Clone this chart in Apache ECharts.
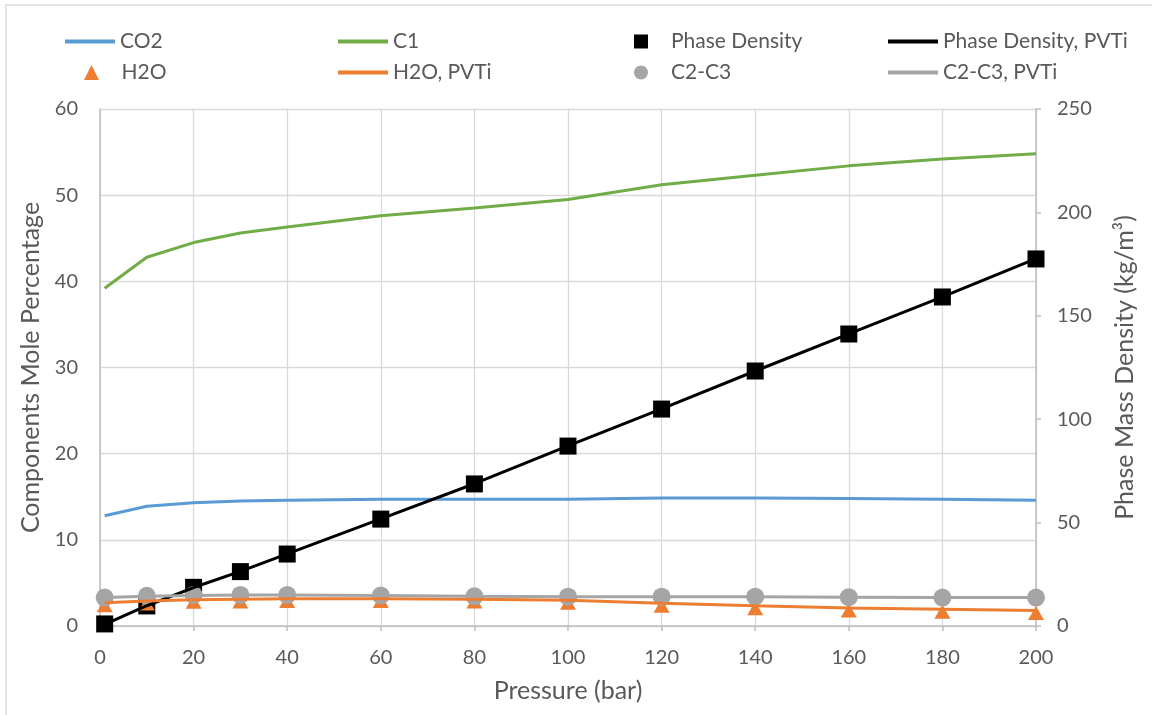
<!DOCTYPE html>
<html>
<head>
<meta charset="utf-8">
<script src="https://cdn.jsdelivr.net/npm/echarts@6/dist/echarts.min.js"></script>
<style>
html,body{margin:0;padding:0;background:#fff;}
#c{width:1152px;height:715px;}
</style>
</head>
<body>
<div id="c"></div>
<script>
const pressure = [1, 10, 20, 30, 40, 60, 80, 100, 120, 140, 160, 180, 200];
const co2 = [12.8, 13.9, 14.3, 14.5, 14.6, 14.7, 14.7, 14.7, 14.85, 14.85, 14.8, 14.7, 14.6];
const c1 = [39.2, 42.8, 44.5, 45.6, 46.3, 47.6, 48.5, 49.5, 51.2, 52.3, 53.4, 54.2, 54.8];
const phaseDensity = [1.0, 9.7, 18.7, 26.3, 34.8, 51.7, 68.7, 87.0, 104.9, 123.3, 141.2, 159.1, 177.5];
const phaseDensityPVTi = [0.8, 9.8, 18.6, 26.4, 34.9, 51.8, 68.8, 87.1, 105.0, 123.3, 141.3, 159.2, 177.6];
const h2o = [2.4, 2.6, 2.8, 2.85, 2.9, 2.9, 2.85, 2.7, 2.35, 2.05, 1.8, 1.65, 1.5];
const h2oPVTi = [2.7, 2.9, 3.05, 3.1, 3.15, 3.15, 3.1, 3.0, 2.65, 2.35, 2.1, 1.95, 1.8];
const c2c3 = [3.3, 3.5, 3.6, 3.6, 3.6, 3.55, 3.45, 3.4, 3.4, 3.4, 3.35, 3.3, 3.3];
const c2c3PVTi = [3.3, 3.45, 3.55, 3.6, 3.6, 3.55, 3.45, 3.4, 3.4, 3.4, 3.35, 3.3, 3.3];
const xTicks = [0, 200, 20];
const yLeftTicks = [0, 60, 10];
const yRightTicks = [0, 250, 50];

const pair = (xs, ys) => xs.map((x, i) => [x, ys[i]]);
const FONT = 'Lato';
const TXT = '#595959';

const SQ = 'path://M0,0L10,0L10,10L0,10Z';
const TRI = 'path://M5,0L10,10L0,10Z';
const CIR = 'path://M5,0A5,5,0,1,1,5,10A5,5,0,1,1,5,0Z';

function lg(name, left, top, icon, w, h) {
  return {
    data: [{name: name, icon: icon}],
    left: left, top: top, padding: 0,
    itemWidth: w, itemHeight: h,
    symbolKeepAspect: true,
    textStyle: {color: TXT, fontSize: 21, fontFamily: FONT}
  };
}
const r1 = 31, r2 = 62;
const legends = [
  lg('CO2', 65, r1, 'rect', 50, 4),
  lg('C1', 338, r1, 'rect', 50, 4),
  lg('Phase Density', 634, r1, SQ, 50, 14),
  lg('Phase Density, PVTi', 888, r1, 'rect', 50, 4),
  lg('H2O', 84, r2, TRI, 50, 15),
  lg('H2O, PVTi', 338, r2, 'rect', 50, 4),
  lg('C2-C3', 634, r2, CIR, 50, 14),
  lg('C2-C3, PVTi', 888, r2, 'rect', 50, 4)
];

function line(name, data, color, yi) {
  return {name: name, type: 'line', data: data, yAxisIndex: yi || 0, showSymbol: false, symbol: 'none',
    lineStyle: {color: color, width: 3}, itemStyle: {color: color}, animation: false};
}
function marks(name, data, color, symbol, size, yi) {
  return {name: name, type: 'scatter', data: data, yAxisIndex: yi || 0, symbol: symbol, symbolSize: size,
    itemStyle: {color: color, opacity: 1}, animation: false};
}

const chart = echarts.init(document.getElementById('c'), null, {renderer: 'canvas'});
chart.setOption({
  backgroundColor: '#fff',
  animation: false,
  graphic: [{type: 'rect', shape: {x: 6, y: 5, width: 1300, height: 900}, style: {fill: 'none', stroke: '#d9d9d9', lineWidth: 1.5}, silent: true, z: -10}],
  legend: legends,
  grid: {left: 100, right: 116, top: 109, bottom: 89},
  xAxis: {
    type: 'value', min: xTicks[0], max: xTicks[1], interval: xTicks[2],
    name: 'Pressure (bar)', nameLocation: 'middle', nameGap: 52,
    nameTextStyle: {color: TXT, fontSize: 25, fontFamily: FONT},
    axisLine: {show: true, lineStyle: {color: '#bfbfbf', width: 1.5}},
    axisTick: {show: true, length: 5, lineStyle: {color: '#bfbfbf', width: 1.5}},
    axisLabel: {color: TXT, fontSize: 20, fontFamily: FONT, margin: 22},
    splitLine: {show: true, lineStyle: {color: '#d9d9d9', width: 1.3}}
  },
  yAxis: [{
    type: 'value', min: yLeftTicks[0], max: yLeftTicks[1], interval: yLeftTicks[2],
    name: 'Components Mole Percentage', nameLocation: 'middle', nameGap: 54, nameRotate: 90,
    nameTextStyle: {color: TXT, fontSize: 25, fontFamily: FONT},
    axisLine: {show: true, lineStyle: {color: '#bfbfbf', width: 1.5}},
    axisTick: {show: false},
    axisLabel: {color: TXT, fontSize: 20, fontFamily: FONT, margin: 22},
    splitLine: {show: true, lineStyle: {color: '#d9d9d9', width: 1.3}}
  }, {
    type: 'value', position: 'right', min: yRightTicks[0], max: yRightTicks[1], interval: yRightTicks[2],
    name: 'Phase Mass Density (kg/m³)', nameLocation: 'middle', nameGap: 76, nameRotate: 90,
    nameTextStyle: {color: TXT, fontSize: 25, fontFamily: FONT},
    axisLine: {show: true, lineStyle: {color: '#bfbfbf', width: 1.5}},
    axisTick: {show: true, inside: false, length: 5, lineStyle: {color: '#bfbfbf', width: 1.5}},
    axisLabel: {color: TXT, fontSize: 20, fontFamily: FONT, margin: 21},
    splitLine: {show: false}
  }],
  series: [
    line('CO2', pair(pressure, co2), '#5b9bd5'),
    line('C1', pair(pressure, c1), '#70ad47'),
    marks('Phase Density', pair(pressure, phaseDensity), '#000000', 'rect', 17, 1),
    line('Phase Density, PVTi', pair(pressure, phaseDensityPVTi), '#000000', 1),
    marks('H2O', pair(pressure, h2o), '#ed7d31', 'triangle', [16, 14]),
    line('H2O, PVTi', pair(pressure, h2oPVTi), '#ed7d31'),
    marks('C2-C3', pair(pressure, c2c3), '#a5a5a5', 'circle', 18),
    line('C2-C3, PVTi', pair(pressure, c2c3PVTi), '#a5a5a5')
  ]
});
</script>
</body>
</html>
